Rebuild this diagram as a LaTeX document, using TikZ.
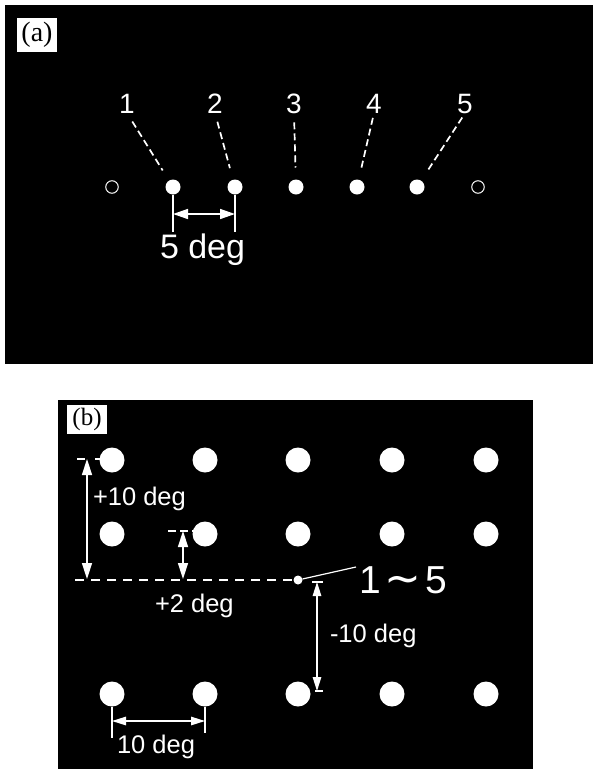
\documentclass[tikz,border=0pt]{standalone}
\usepackage{fontspec}
\setmainfont{Liberation Sans}
\newfontfamily\labfont{Liberation Sans}
\newfontfamily\serfont{Liberation Serif}
\newfontfamily\symfont{DejaVu Sans}
\usetikzlibrary{arrows.meta}
\begin{document}
\begin{tikzpicture}[x=1pt,y=-1pt,
  every node/.style={inner sep=0pt,outer sep=0pt},
  bigdot/.style={circle,fill=white,minimum size=15pt},
  opendot/.style={circle,draw=white,line width=1pt,minimum size=12.5pt},
  spot/.style={circle,fill=white,minimum size=25pt},
  smalldot/.style={circle,fill=white,minimum size=9pt},
  numlab/.style={text=white,font=\labfont\fontsize{28}{28}\selectfont},
  deglab/.style={text=white,font=\labfont\fontsize{25.5}{25.5}\selectfont},
  panellab/.style={fill=white,text=black},
  leader/.style={draw=white,line width=1.7pt,dash pattern=on 7pt off 4pt},
  ext/.style={draw=white,line width=1.2pt},
  dim/.style={draw=white,line width=1.5pt,{Triangle[length=16pt,width=10pt]}-{Triangle[length=16pt,width=10pt]}},
  dimsmall/.style={draw=white,line width=1.4pt,{Triangle[length=14pt,width=8.5pt]}-{Triangle[length=14pt,width=8.5pt]}},
  refdash/.style={draw=white,line width=1.8pt,dash pattern=on 9pt off 7pt},
]
\useasboundingbox (0,0) rectangle (593,769);
% panels
\fill[black] (5,5) rectangle (593,364);
\fill[black] (58,400) rectangle (533,769);

% ---------------- panel (a)
\node[panellab,font=\serfont\fontsize{28}{28}\selectfont,minimum width=40pt,minimum height=34pt,anchor=north west] (la) at (17,18) {(a)};

\node[opendot] (a0) at (112,187) {};
\node[bigdot] (a1) at (173,187) {};
\node[bigdot] (a2) at (235,187) {};
\node[bigdot] (a3) at (296,187) {};
\node[bigdot] (a4) at (357,187) {};
\node[bigdot] (a5) at (417,187) {};
\node[opendot] (a6) at (478,187) {};

\node[numlab,anchor=base] (n1) at (127,113) {1};
\node[numlab,anchor=base] (n2) at (215,113) {2};
\node[numlab,anchor=base] (n3) at (294,113) {3};
\node[numlab,anchor=base] (n4) at (374,113) {4};
\node[numlab,anchor=base] (n5) at (465,113) {5};

\draw[leader,shorten <=10pt,shorten >=12pt] (n1.south) -- (a1);
\draw[leader,shorten <=9pt,shorten >=12pt] (n2.south) -- (a2);
\draw[leader,shorten <=9pt,shorten >=12pt] (n3.south) -- (a3);
\draw[leader,shorten <=5pt,shorten >=12pt] (n4.south) -- (a4);
\draw[leader,shorten <=5pt,shorten >=12pt] (n5.south) -- (a5);

\coordinate (e1) at (173,232);
\coordinate (e2) at (235,232);
\draw[ext] (a1) -- (e1);
\draw[ext] (a2) -- (e2);
\coordinate (d1) at (173,214);
\coordinate (d2) at (235,214);
\draw[draw=white,line width=1.5pt,{Triangle[length=15pt,width=10pt]}-{Triangle[length=15pt,width=10pt]}] (d1) -- (d2);
\node[text=white,font=\labfont\fontsize{34}{34}\selectfont,anchor=base west] (t5) at (160,258) {5 deg};

% ---------------- panel (b)
\node[panellab,font=\serfont\fontsize{25}{25}\selectfont,minimum width=40pt,minimum height=29pt,anchor=north west] (lb) at (67,405) {(b)};

\foreach \r/\y in {1/460,2/534,3/694}
  \foreach \c/\x in {1/112,2/205,3/298,4/392,5/486}
    \node[spot] (b\r\c) at (\x,\y) {};

\node[smalldot] (c0) at (298,580) {};
\coordinate (h0) at (75,580);
\draw[refdash] (h0) -- (c0);

% +10 deg
\coordinate (t1) at (77,459);
\draw[draw=white,line width=1.6pt,dash pattern=on 8pt off 10pt] (t1) -- (t1 -| b11);
\coordinate (p1) at (87,459);
\coordinate (p2) at (87,579);
\draw[dim] (p1) -- (p2);
\node[deglab,anchor=base west] (tp10) at (93,505) {+10 deg};

% +2 deg
\coordinate (t2) at (168,531);
\draw[draw=white,line width=1.6pt,dash pattern=on 8pt off 4pt] (t2) -- (t2 -| b22);
\coordinate (q1) at (183,531);
\coordinate (q2) at (183,579);
\draw[dim] (q1) -- (q2);
\node[deglab,anchor=base west] (tp2) at (155,612) {+2 deg};

% -10 deg
\coordinate (r1) at (317,582);
\coordinate (r2) at (317,691);
\draw[ext] ([xshift=-5pt]r1) -- ([xshift=6pt]r1);
\draw[ext] ([xshift=-2pt]r2) -- ([xshift=6pt]r2);
\draw[dimsmall] (r1) -- (r2);
\node[deglab,anchor=base west] (tm10) at (330,642) {-10 deg};

% 1~5
\coordinate (k1) at (356,567);
\draw[white,line width=1.2pt] (c0) -- (k1);
\node[text=white,font=\labfont\fontsize{39}{39}\selectfont,anchor=base west] (t15) at (359,593) {1\hspace{4pt}{\symfont\fontsize{44}{44}\selectfont ∼}\hspace{4pt}5};

% 10 deg
\coordinate (f1) at (112,738);
\coordinate (f2) at (205,733);
\draw[ext] (b31) -- (f1);
\draw[ext] (b32) -- (f2);
\coordinate (g1) at (112,721);
\coordinate (g2) at (205,721);
\draw[dimsmall] (g1) -- (g2);
\node[deglab,anchor=base west] (t10) at (117,753) {10 deg};
\end{tikzpicture}
\end{document}
